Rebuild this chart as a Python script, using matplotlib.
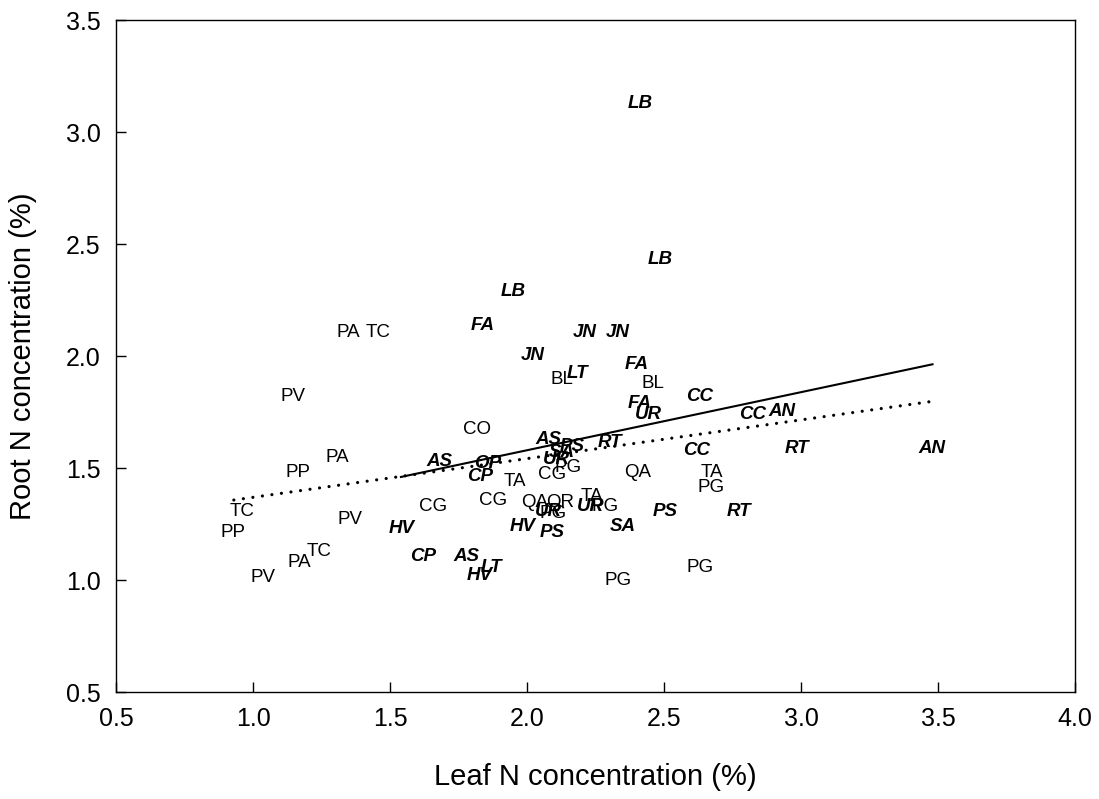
import matplotlib
matplotlib.use("Agg")
import matplotlib.pyplot as plt
import numpy as np

# species codes in plain font (group 1)
plain_codes = ["PA", "TC", "PV", "CO", "PA", "PP", "TC", "PP", "PV", "CG",
               "TC", "PA", "PV", "TA", "CG", "CG", "PG", "QA", "QA", "QR",
               "PG", "TA", "PG", "PG", "BL", "BL", "TA", "PG", "PG"]
plain_leaf = [1.347, 1.456, 1.146, 1.818, 1.307, 1.164, 0.960, 0.927, 1.354, 1.657,
              1.241, 1.168, 1.036, 1.956, 1.876, 2.091, 2.150, 2.405, 2.029, 2.120,
              2.095, 2.237, 2.285, 2.332, 2.128, 2.460, 2.675, 2.672, 2.631]
plain_root = [2.103, 2.103, 1.817, 1.670, 1.545, 1.478, 1.308, 1.214, 1.268, 1.326,
              1.125, 1.076, 1.013, 1.438, 1.357, 1.473, 1.504, 1.482, 1.344, 1.344,
              1.295, 1.371, 1.326, 0.996, 1.897, 1.879, 1.482, 1.415, 1.054]

# species codes in bold italic (group 2)
bi_codes = ["LB", "LB", "LB", "FA", "JN", "JN", "JN", "LT", "FA", "CC",
            "FA", "UR", "CC", "AN", "AS", "PS", "RT", "CC", "RT", "AN",
            "AS", "OP", "CP", "UR", "SA", "UR", "UR", "HV", "PS", "SA",
            "PS", "RT", "HV", "CP", "AS", "LT", "HV"]
bi_leaf = [2.412, 2.485, 1.949, 1.839, 2.212, 2.332, 2.022, 2.186, 2.401, 2.631,
           2.412, 2.442, 2.825, 2.931, 2.077, 2.164, 2.303, 2.620, 2.985, 3.478,
           1.682, 1.858, 1.828, 2.106, 2.128, 2.230, 2.077, 1.985, 2.091, 2.350,
           2.504, 2.774, 1.544, 1.620, 1.777, 1.869, 1.828]
bi_root = [3.125, 2.433, 2.286, 2.138, 2.107, 2.107, 2.004, 1.924, 1.964, 1.817,
           1.786, 1.737, 1.737, 1.750, 1.625, 1.598, 1.612, 1.576, 1.589, 1.589,
           1.527, 1.522, 1.460, 1.540, 1.567, 1.326, 1.308, 1.241, 1.214, 1.241,
           1.308, 1.308, 1.228, 1.107, 1.103, 1.058, 1.018]

# regression lines (end points)
solid_x = [1.54, 3.48]
solid_y = [1.46, 1.963]
dotted_x = [0.93, 3.47]
dotted_y = [1.357, 1.796]

ticks = [0.5, 1.0, 1.5, 2.0, 2.5, 3.0, 3.5, 4.0]
yticks = [0.5, 1.0, 1.5, 2.0, 2.5, 3.0, 3.5]

plt.rcParams['font.family'] = ['Liberation Sans', 'DejaVu Sans']

fig = plt.figure(figsize=(10.99, 7.99), dpi=100)
ax = fig.add_axes([116/1099, 1-692/799, 959/1099, 672/799])

for c, x, y in zip(plain_codes, plain_leaf, plain_root):
    ax.text(x, y, c, ha='center', va='center', fontsize=13.5)
for c, x, y in zip(bi_codes, bi_leaf, bi_root):
    ax.text(x, y, c, ha='center', va='center', fontsize=13.5,
            fontweight='bold', fontstyle='italic')

ax.plot(solid_x, solid_y, color='black', lw=1.5)
ax.plot(dotted_x, dotted_y, color='black', lw=2.3,
        linestyle=(0, (0.01, 3.0)), dash_capstyle='round')

ax.set_xlim(0.5, 4.0)
ax.set_ylim(0.5, 3.5)
ax.set_xticks(ticks)
ax.set_yticks(yticks)
ax.set_xticklabels(["%.1f" % t for t in ticks])
ax.set_yticklabels(["%.1f" % t for t in yticks])
ax.tick_params(direction='in', length=7, width=1, labelsize=18, pad=11)
for s in ax.spines.values():
    s.set_linewidth(1.0)

ax.set_xlabel("Leaf N concentration (%)", fontsize=21)
ax.set_ylabel("Root N concentration (%)", fontsize=21)
ax.xaxis.set_label_coords(0.5, -0.105)
ax.yaxis.set_label_coords(-0.082, 0.5)

fig.savefig("out.png", dpi=100)
